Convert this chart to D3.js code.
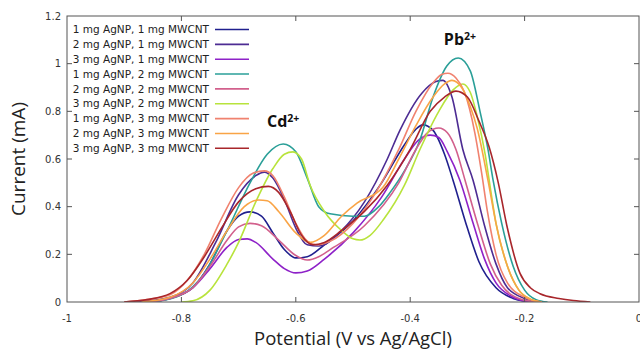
<!DOCTYPE html>
<html>
<head>
<meta charset="utf-8">
<script src="https://cdn.jsdelivr.net/npm/d3@7"></script>
<style>
  body { margin: 0; background: #fff; }
  svg { display: block; }
</style>
</head>
<body>
<div id="root"></div>
<script>
// [potential (V), current (mA)]
const ag1cnt1 = [[-0.86,0],[-0.82,0.015],[-0.78,0.06],[-0.75,0.16],[-0.72,0.3],[-0.7,0.36],[-0.68,0.378],[-0.66,0.36],[-0.64,0.29],[-0.62,0.22],[-0.6,0.185],[-0.58,0.19],[-0.55,0.24],[-0.5,0.34],[-0.45,0.5],[-0.41,0.66],[-0.39,0.725],[-0.378,0.743],[-0.36,0.72],[-0.34,0.62],[-0.325,0.51],[-0.3,0.31],[-0.28,0.17],[-0.25,0.06],[-0.22,0.015],[-0.19,0]];
const ag2cnt1 = [[-0.88,0],[-0.82,0.02],[-0.78,0.08],[-0.74,0.25],[-0.7,0.45],[-0.67,0.53],[-0.655,0.545],[-0.64,0.52],[-0.62,0.43],[-0.6,0.31],[-0.58,0.24],[-0.56,0.235],[-0.52,0.3],[-0.48,0.42],[-0.44,0.6],[-0.418,0.72],[-0.38,0.875],[-0.355,0.925],[-0.343,0.93],[-0.327,0.86],[-0.308,0.64],[-0.29,0.51],[-0.27,0.32],[-0.25,0.16],[-0.23,0.06],[-0.2,0.015],[-0.17,0]];
const ag3cnt1 = [[-0.86,0],[-0.82,0.015],[-0.78,0.06],[-0.75,0.14],[-0.72,0.23],[-0.7,0.262],[-0.685,0.265],[-0.67,0.25],[-0.64,0.18],[-0.62,0.14],[-0.6,0.122],[-0.58,0.13],[-0.55,0.18],[-0.5,0.29],[-0.45,0.44],[-0.41,0.6],[-0.385,0.68],[-0.365,0.7],[-0.35,0.69],[-0.335,0.63],[-0.313,0.51],[-0.29,0.33],[-0.27,0.18],[-0.25,0.08],[-0.22,0.02],[-0.19,0]];
const ag1cnt2 = [[-0.85,0],[-0.8,0.03],[-0.76,0.12],[-0.72,0.3],[-0.68,0.5],[-0.65,0.62],[-0.622,0.663],[-0.6,0.63],[-0.58,0.52],[-0.56,0.4],[-0.54,0.37],[-0.5,0.36],[-0.48,0.36],[-0.455,0.4],[-0.435,0.46],[-0.41,0.55],[-0.383,0.68],[-0.36,0.86],[-0.336,0.99],[-0.316,1.024],[-0.295,0.97],[-0.278,0.8],[-0.264,0.64],[-0.255,0.51],[-0.24,0.33],[-0.22,0.15],[-0.2,0.05],[-0.18,0.01],[-0.16,0]];
const ag2cnt2 = [[-0.86,0],[-0.82,0.015],[-0.78,0.06],[-0.75,0.15],[-0.72,0.26],[-0.7,0.315],[-0.68,0.33],[-0.66,0.32],[-0.63,0.26],[-0.6,0.195],[-0.58,0.176],[-0.56,0.19],[-0.54,0.22],[-0.48,0.32],[-0.42,0.5],[-0.39,0.64],[-0.37,0.71],[-0.35,0.73],[-0.335,0.71],[-0.32,0.64],[-0.304,0.51],[-0.28,0.31],[-0.26,0.16],[-0.24,0.07],[-0.21,0.015],[-0.18,0]];
const ag3cnt2 = [[-0.8,0],[-0.78,0.005],[-0.75,0.05],[-0.72,0.16],[-0.7,0.25],[-0.67,0.42],[-0.64,0.56],[-0.62,0.62],[-0.605,0.63],[-0.59,0.6],[-0.575,0.49],[-0.55,0.38],[-0.52,0.3],[-0.5,0.265],[-0.488,0.26],[-0.47,0.28],[-0.447,0.345],[-0.41,0.49],[-0.383,0.64],[-0.35,0.8],[-0.325,0.89],[-0.308,0.915],[-0.295,0.88],[-0.283,0.78],[-0.269,0.62],[-0.26,0.48],[-0.25,0.33],[-0.23,0.15],[-0.21,0.05],[-0.19,0.012],[-0.17,0]];
const ag1cnt3 = [[-0.9,0],[-0.86,0.01],[-0.82,0.03],[-0.79,0.09],[-0.76,0.2],[-0.73,0.35],[-0.7,0.48],[-0.675,0.54],[-0.655,0.55],[-0.64,0.53],[-0.62,0.44],[-0.6,0.33],[-0.58,0.255],[-0.565,0.24],[-0.54,0.255],[-0.5,0.33],[-0.46,0.46],[-0.42,0.64],[-0.39,0.8],[-0.36,0.92],[-0.345,0.955],[-0.334,0.96],[-0.32,0.94],[-0.305,0.88],[-0.287,0.71],[-0.275,0.54],[-0.265,0.38],[-0.25,0.2],[-0.23,0.08],[-0.2,0.02],[-0.17,0]];
const ag2cnt3 = [[-0.87,0],[-0.82,0.02],[-0.78,0.08],[-0.75,0.18],[-0.72,0.3],[-0.69,0.4],[-0.665,0.428],[-0.65,0.425],[-0.63,0.38],[-0.6,0.29],[-0.575,0.25],[-0.55,0.28],[-0.52,0.36],[-0.493,0.415],[-0.448,0.48],[-0.42,0.6],[-0.39,0.74],[-0.36,0.86],[-0.34,0.915],[-0.327,0.93],[-0.31,0.9],[-0.295,0.82],[-0.283,0.73],[-0.264,0.51],[-0.25,0.33],[-0.23,0.15],[-0.21,0.05],[-0.19,0.012],[-0.17,0]];
const ag3cnt3 = [[-0.9,0],[-0.86,0.01],[-0.82,0.035],[-0.79,0.09],[-0.76,0.19],[-0.73,0.31],[-0.7,0.42],[-0.67,0.475],[-0.648,0.485],[-0.63,0.46],[-0.61,0.38],[-0.59,0.28],[-0.57,0.24],[-0.55,0.25],[-0.52,0.3],[-0.48,0.38],[-0.44,0.49],[-0.4,0.64],[-0.365,0.8],[-0.34,0.86],[-0.32,0.885],[-0.3,0.86],[-0.28,0.76],[-0.262,0.65],[-0.246,0.5],[-0.231,0.32],[-0.208,0.12],[-0.19,0.06],[-0.173,0.035],[-0.14,0.015],[-0.115,0.006],[-0.085,0]];

const seriesNames = [
  "1 mg AgNP, 1 mg MWCNT", "2 mg AgNP, 1 mg MWCNT", "3 mg AgNP, 1 mg MWCNT",
  "1 mg AgNP, 2 mg MWCNT", "2 mg AgNP, 2 mg MWCNT", "3 mg AgNP, 2 mg MWCNT",
  "1 mg AgNP, 3 mg MWCNT", "2 mg AgNP, 3 mg MWCNT", "3 mg AgNP, 3 mg MWCNT",
];
const seriesData = [ag1cnt1, ag2cnt1, ag3cnt1, ag1cnt2, ag2cnt2, ag3cnt2, ag1cnt3, ag2cnt3, ag3cnt3];
const seriesColors = ["#20208e", "#4d2c93", "#8e22c8", "#2a9f98", "#d2608c", "#b8e33c", "#f0826f", "#f9a446", "#a8262b"];
const xTicks = [-1, -0.8, -0.6, -0.4, -0.2, 0];
const yTicks = [0, 0.2, 0.4, 0.6, 0.8, 1, 1.2];

const width = 640;
const height = 352;
const margin = { top: 16, right: 1, bottom: 50, left: 67 };

const svg = d3.select("#root").append("svg")
  .attr("width", width)
  .attr("height", height);

const x = d3.scaleLinear().domain([-1, 0]).range([margin.left, width - margin.right]);
const y = d3.scaleLinear().domain([0, 1.2]).range([height - margin.bottom, margin.top]);

const tickFont = "'DejaVu Sans', Verdana, sans-serif";
const labelFont = "'Open Sans', 'Noto Sans', sans-serif";

svg.append("defs").append("clipPath").attr("id", "plot")
  .append("rect")
  .attr("x", x(-1)).attr("y", y(1.2))
  .attr("width", x(0) - x(-1)).attr("height", y(0) - y(1.2));

// curves
const line = d3.line()
  .x(d => x(d[0]))
  .y(d => y(d[1]))
  .curve(d3.curveMonotoneX);

svg.append("g")
  .attr("clip-path", "url(#plot)")
  .selectAll("path")
  .data(seriesData)
  .join("path")
  .attr("fill", "none")
  .attr("stroke", (d, i) => seriesColors[i])
  .attr("stroke-width", 1.6)
  .attr("d", line);

// frame with inward ticks on all sides
const tickLen = 5;
const axisColor = "#555";
const frame = svg.append("g").attr("stroke", axisColor).attr("stroke-width", 1);

frame.append("rect")
  .attr("x", x(-1)).attr("y", y(1.2))
  .attr("width", x(0) - x(-1)).attr("height", y(0) - y(1.2))
  .attr("fill", "none");

frame.selectAll(".xt")
  .data(xTicks.slice(1, -1))
  .join(enter => {
    const g = enter.append("g");
    g.append("line").attr("x1", d => x(d)).attr("x2", d => x(d)).attr("y1", y(0)).attr("y2", y(0) - tickLen);
    g.append("line").attr("x1", d => x(d)).attr("x2", d => x(d)).attr("y1", y(1.2)).attr("y2", y(1.2) + tickLen);
    return g;
  });

frame.selectAll(".yt")
  .data(yTicks.slice(1, -1))
  .join(enter => {
    const g = enter.append("g");
    g.append("line").attr("y1", d => y(d)).attr("y2", d => y(d)).attr("x1", x(-1)).attr("x2", x(-1) + tickLen);
    g.append("line").attr("y1", d => y(d)).attr("y2", d => y(d)).attr("x1", x(0)).attr("x2", x(0) - tickLen);
    return g;
  });

// tick labels
svg.append("g")
  .selectAll("text")
  .data(yTicks)
  .join("text")
  .attr("x", x(-1) - 6)
  .attr("y", d => y(d))
  .attr("dy", "0.35em")
  .attr("text-anchor", "end")
  .attr("font-family", tickFont)
  .attr("font-size", 10)
  .attr("fill", "#333")
  .text(d => d);

svg.append("g")
  .selectAll("text")
  .data(xTicks)
  .join("text")
  .attr("x", d => x(d))
  .attr("y", y(0) + 20)
  .attr("text-anchor", "middle")
  .attr("font-family", tickFont)
  .attr("font-size", 10)
  .attr("fill", "#333")
  .text(d => d);

// axis titles
svg.append("text")
  .attr("transform", `translate(25, ${(y(0) + y(1.2)) / 2}) rotate(-90)`)
  .attr("text-anchor", "middle")
  .attr("font-family", labelFont)
  .attr("font-size", 19)
  .attr("fill", "#222")
  .text("Current (mA)");

svg.append("text")
  .attr("x", 353)
  .attr("y", 345)
  .attr("text-anchor", "middle")
  .attr("font-family", labelFont)
  .attr("font-size", 18.5)
  .attr("fill", "#222")
  .text("Potential (V vs Ag/AgCl)");

// peak labels
const peaks = [
  { ion: "Cd", v: -0.622, i: 0.734 },
  { ion: "Pb", v: -0.313, i: 1.078 },
];
peaks.forEach(p => {
  const t = svg.append("text")
    .attr("x", x(p.v))
    .attr("y", y(p.i))
    .attr("text-anchor", "middle")
    .attr("font-family", labelFont)
    .attr("font-weight", "bold")
    .attr("font-size", 16)
    .attr("fill", "#111");
  t.append("tspan").text(p.ion);
  t.append("tspan").attr("font-size", 10.5).attr("dy", "-0.5em").text("2+");
});

// legend
const legendRight = 209;
const legendTop = 29.5;
const rowStep = 14.85;
const legend = svg.append("g");
const rows = legend.selectAll("g")
  .data(seriesNames)
  .join("g")
  .attr("transform", (d, i) => `translate(0, ${legendTop + i * rowStep})`);

rows.append("text")
  .attr("x", legendRight)
  .attr("dy", "0.35em")
  .attr("text-anchor", "end")
  .attr("font-family", tickFont)
  .attr("font-size", 10.5)
  .attr("fill", "#222")
  .text(d => d);

rows.append("line")
  .attr("x1", 215)
  .attr("x2", 249)
  .attr("stroke", (d, i) => seriesColors[i])
  .attr("stroke-width", 1.6);
</script>
</body>
</html>
